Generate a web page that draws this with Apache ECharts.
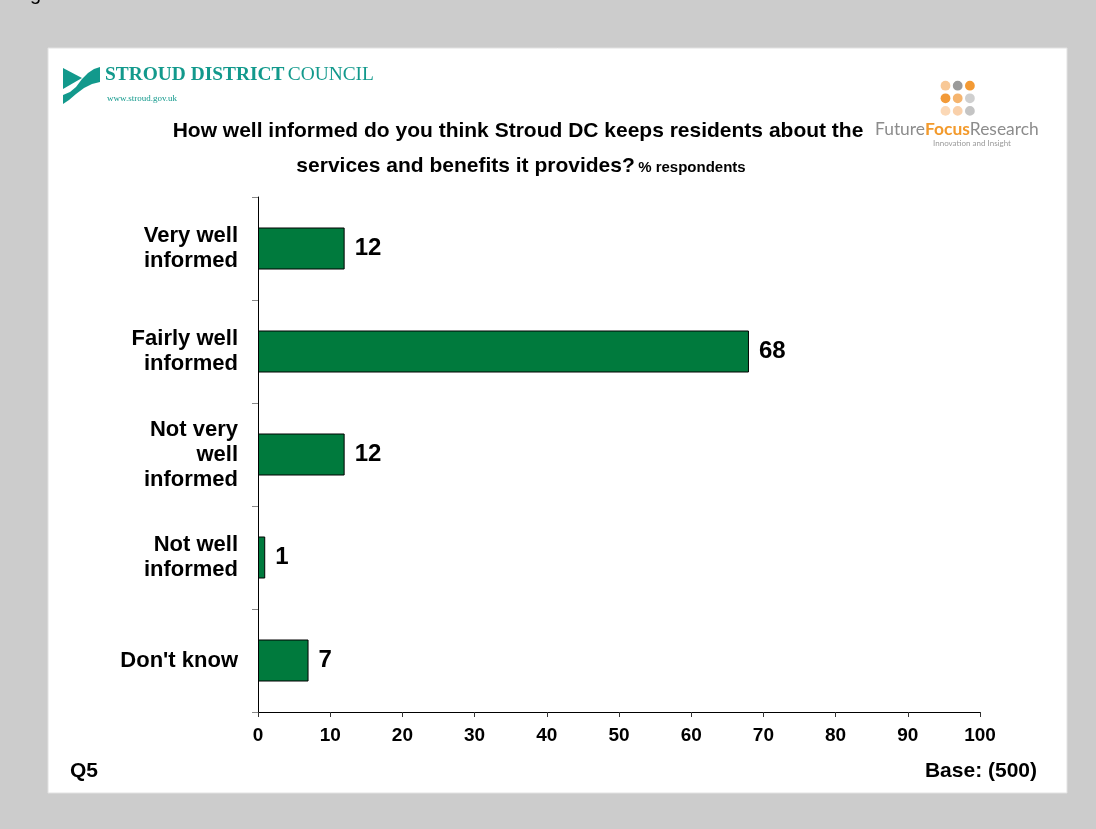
<!DOCTYPE html>
<html>
<head>
<meta charset="utf-8">
<script src="https://cdn.jsdelivr.net/npm/echarts@6/dist/echarts.min.js"></script>
<style>
html,body{margin:0;padding:0;background:#cccccc;}
#chart{width:1096px;height:829px;}
</style>
</head>
<body>
<div id="chart"></div>
<script>
// ---- data ----
var categories = ['Very well\ninformed', 'Fairly well\ninformed', 'Not very\nwell\ninformed', 'Not well\ninformed', "Don't know"];
var values = [12, 68, 12, 1, 7];
var xTicks = [0, 10, 20, 30, 40, 50, 60, 70, 80, 90, 100];
var titleLine1 = 'How well informed do you think Stroud DC keeps residents about the';
var titleLine2 = 'services and benefits it provides?';
var titleUnit = '% respondents';
var footLeft = 'Q5';
var footRight = 'Base: (500)';

var dotColors = [
  ['#f8c896', '#9a9a9a', '#f39a34'],
  ['#f29a38', '#f5b46e', '#cfcfcf'],
  ['#fbd8b6', '#f9d0aa', '#c4c4c4']
];

var chart = echarts.init(document.getElementById('chart'));

var graphics = [
  { type: 'rect', z: -10, shape: { x: 48, y: 48, width: 1019, height: 745 },
    style: { fill: '#ffffff', stroke: '#e2e2e2', lineWidth: 1 } },
  { type: 'text', style: { x: 30, y: 4, text: 'g', fill: '#000', font: '20px "Liberation Sans", Arial, sans-serif', verticalAlign: 'bottom' } },
  // Stroud logo shape
  { type: 'polygon', shape: { points: [[63,68],[82,78],[63,89]] }, style: { fill: '#12998c' } },
  { type: 'polygon', shape: { points: [[100,67],[100,82],[92,84],[84,88],[76,94],[69,100],[63,104],[63,95],[70,92],[76,87],[82,79],[88,73],[94,69]] }, style: { fill: '#12998c' } },
  { type: 'text', style: { x: 105, y: 84, verticalAlign: 'bottom',
      text: '{b|STROUD DISTRICT} {r|COUNCIL}',
      rich: {
        b: { font: 'bold 19.4px "Liberation Serif", "DejaVu Serif", serif', fill: '#12998c' },
        r: { font: '19.4px "Liberation Serif", "DejaVu Serif", serif', fill: '#12998c' }
      } } },
  { type: 'text', style: { x: 107, y: 99, verticalAlign: 'middle', text: 'www.stroud.gov.uk',
      font: '9px "Liberation Serif", serif', fill: '#12998c' } },
  // Future Focus logo text
  { type: 'text', style: { x: 875, y: 129, verticalAlign: 'middle',
      text: '{g|Future}{o|Focus}{g|Research}',
      rich: {
        g: { font: '17.4px Lato, "Open Sans", sans-serif', fill: '#8c8c8c' },
        o: { font: 'bold 17.4px Lato, "Open Sans", sans-serif', fill: '#f39a2c' }
      } } },
  { type: 'text', style: { x: 972, y: 143, align: 'center', verticalAlign: 'middle', text: 'Innovation and Insight',
      font: '8px Lato, sans-serif', fill: '#9a9a9a' } },
  // Title
  { type: 'text', style: { x: 518, y: 131, align: 'center', verticalAlign: 'middle', text: titleLine1,
      font: 'bold 21px "Liberation Sans", Arial, sans-serif', fill: '#000' } },
  { type: 'text', style: { x: 521, y: 166, align: 'center', verticalAlign: 'middle',
      text: '{a|' + titleLine2 + '} {b|' + titleUnit + '}',
      rich: {
        a: { font: 'bold 21px "Liberation Sans", Arial, sans-serif', fill: '#000' },
        b: { font: 'bold 15px "Liberation Sans", Arial, sans-serif', fill: '#000', padding: [4, 0, 0, 0] }
      } } },
  // Footer
  { type: 'text', style: { x: 70, y: 771, verticalAlign: 'middle', text: footLeft,
      font: 'bold 21px "Liberation Sans", Arial, sans-serif', fill: '#000' } },
  { type: 'text', style: { x: 1037, y: 771, align: 'right', verticalAlign: 'middle', text: footRight,
      font: 'bold 21px "Liberation Sans", Arial, sans-serif', fill: '#000' } }
];

for (var r = 0; r < 3; r++) {
  for (var c = 0; c < 3; c++) {
    graphics.push({ type: 'circle', shape: { cx: 945.5 + c * 12.2, cy: 85.7 + r * 12.6, r: 4.9 }, style: { fill: dotColors[r][c] } });
  }
}

chart.setOption({
  backgroundColor: '#cccccc',
  animation: false,
  graphic: graphics,
  grid: { left: 258, right: 116, top: 197, bottom: 117, containLabel: false },
  xAxis: {
    type: 'value', min: xTicks[0], max: xTicks[xTicks.length - 1], interval: 10,
    splitLine: { show: false },
    axisLine: { show: true, lineStyle: { color: '#000', width: 1 } },
    axisTick: { show: true, length: 5, lineStyle: { color: '#333' } },
    axisLabel: { margin: 14, color: '#000', fontWeight: 'bold', fontSize: 19, fontFamily: '"Liberation Sans", Arial, sans-serif' }
  },
  yAxis: {
    type: 'category', data: categories, inverse: true,
    axisLine: { show: true, lineStyle: { color: '#000', width: 1 } },
    axisTick: { show: true, length: 6, lineStyle: { color: '#888' } },
    axisLabel: { margin: 20, color: '#000', fontWeight: 'bold', fontSize: 22, lineHeight: 25, align: 'right',
      padding: [6, 0, 0, 0],
      fontFamily: '"Liberation Sans", Arial, sans-serif' }
  },
  series: [{
    type: 'bar', data: values, barWidth: 42,
    itemStyle: { color: '#007a3d', borderColor: '#000', borderWidth: 1 },
    label: { show: true, position: 'right', distance: 10, color: '#000', fontWeight: 'bold', fontSize: 24,
      fontFamily: '"Liberation Sans", Arial, sans-serif' }
  }]
});
</script>
</body>
</html>
